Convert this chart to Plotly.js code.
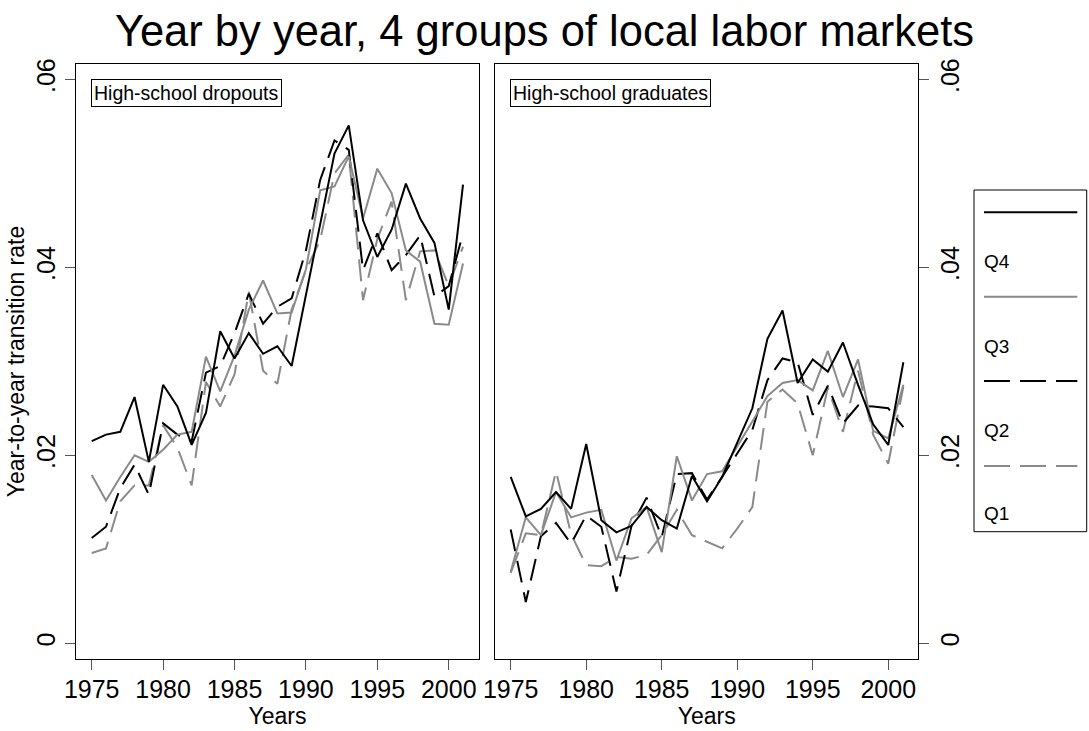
<!DOCTYPE html>
<html>
<head>
<meta charset="utf-8">
<script src="https://cdn.plot.ly/plotly-3.0.1.min.js"></script>
<style>html,body{margin:0;padding:0;background:#fff;}#chart{width:1089px;height:731px;}</style>
</head>
<body>
<div id="chart"></div>
<script>
// ---- data ----
const years = [1975,1976,1977,1978,1979,1980,1981,1982,1983,1984,1985,1986,1987,1988,1989,1990,1991,1992,1993,1994,1995,1996,1997,1998,1999,2000,2001];
const seriesNames = ["Q4","Q3","Q2","Q1"];
const panelNames = ["High-school dropouts","High-school graduates"];
const xTickVals = [1975,1980,1985,1990,1995,2000];
const yTickVals = [0,0.02,0.04,0.06];
const yTickText = ["0",".02",".04",".06"];

// High-school dropouts
const dropQ4 = [.0215,.0222,.0225,.0262,.0193,.0275,.0252,.0211,.0245,.0332,.0303,.0330,.0308,.0316,.0295,.0372,.0446,.0521,.0551,.0450,.0411,.0440,.0489,.0452,.0426,.0355,.0488];
const dropQ3 = [.0179,.0152,.0177,.0200,.0193,.0206,.0222,.0225,.0305,.0268,.0306,.0355,.0386,.0351,.0352,.0398,.0482,.0486,.0518,.0452,.0505,.0479,.0418,.0406,.0340,.0339,.0404];
const dropQ2 = [.0112,.0124,.0165,.0190,.0158,.0234,.0222,.0215,.0288,.0295,.0330,.0372,.0340,.0358,.0367,.0418,.0493,.0535,.0525,.0397,.0436,.0397,.0413,.0434,.0369,.0380,.0436];
const dropQ1 = [.0096,.0101,.0151,.0168,.0168,.0232,.0208,.0168,.0278,.0252,.0286,.0374,.0290,.0276,.0355,.0397,.0429,.0500,.0520,.0365,.0430,.0470,.0365,.0417,.0418,.0380,.0422];

// High-school graduates
const gradQ4 = [.0177,.0135,.0143,.0161,.0143,.0212,.0131,.0118,.0125,.0145,.0131,.0122,.0178,.0151,.0177,.0213,.0250,.0324,.0354,.0277,.0302,.0289,.0320,.0275,.0233,.0211,.0299];
const gradQ3 = [.0076,.0134,.0115,.0161,.0134,.0139,.0142,.0088,.0133,.0145,.0097,.0199,.0152,.0180,.0183,.0209,.0236,.0263,.0277,.0280,.0269,.0311,.0262,.0302,.0226,.0218,.0275];
const gradQ2 = [.0121,.0044,.0114,.0128,.0106,.0136,.0124,.0055,.0125,.0155,.0113,.0180,.0181,.0153,.0177,.0202,.0227,.0280,.0303,.0299,.0243,.0274,.0234,.0253,.0252,.0250,.0230];
const gradQ1 = [.0075,.0117,.0115,.0183,.0116,.0083,.0082,.0092,.0090,.0094,.0115,.0142,.0115,.0108,.0101,.0122,.0145,.0257,.0270,.0255,.0200,.0272,.0225,.0290,.0222,.0191,.0273];

// ---- styles ----
const FONT = "'Liberation Sans', Arial, sans-serif";
const GRAY = "#8a8a8a";
const styles = {
  Q4: {color: "#000000", dash: "solid"},
  Q3: {color: GRAY, dash: "solid"},
  Q2: {color: "#000000", dash: "22px,10px"},
  Q1: {color: GRAY, dash: "22px,10px"}
};
const LW = 2;

const dropData = {Q4: dropQ4, Q3: dropQ3, Q2: dropQ2, Q1: dropQ1};
const gradData = {Q4: gradQ4, Q3: gradQ3, Q2: gradQ2, Q1: gradQ1};

const traces = [];
const order = ["Q1","Q2","Q3","Q4"];
order.forEach(n => {
  traces.push({x: years, y: dropData[n], type: "scatter", mode: "lines", name: n, showlegend: false,
    xaxis: "x", yaxis: "y", line: {color: styles[n].color, dash: styles[n].dash, width: LW}, hoverinfo: "skip"});
});
order.forEach(n => {
  traces.push({x: years, y: gradData[n], type: "scatter", mode: "lines", name: n, showlegend: false,
    xaxis: "x2", yaxis: "y2", line: {color: styles[n].color, dash: styles[n].dash, width: LW}, hoverinfo: "skip"});
});

const W = 1089, H = 731;
const px = v => v / W;
const py = v => 1 - v / H;
const yDom = [py(658.7), py(64.3)];
const yRange = [-0.00164, 0.0616];
const TICK = 25, AXT = 23;

const common = {
  showgrid: false, zeroline: false, showline: true, linecolor: "#000", linewidth: 1, mirror: true,
  ticks: "outside", ticklen: 10, tickwidth: 1, tickcolor: "#555",
  tickfont: {family: FONT, size: TICK, color: "#000"}
};

const layout = {
  width: W, height: H,
  margin: {l: 0, r: 0, t: 0, b: 0},
  paper_bgcolor: "#fff", plot_bgcolor: "#fff",
  font: {family: FONT, color: "#000"},
  showlegend: false,
  title: {text: "Year by year, 4 groups of local labor markets", font: {family: FONT, size: 43.5, color: "#000"},
    x: 0.5, xanchor: "center", y: py(31), yanchor: "middle", xref: "paper", yref: "paper"},
  xaxis: Object.assign({}, common, {domain: [px(76), px(479)], range: [1973.9, 2002.12], anchor: "y",
    tickmode: "array", tickvals: xTickVals, ticklabelstandoff: -2,
    title: {text: "Years", font: {family: FONT, size: AXT, color: "#000"}, standoff: 0}}),
  yaxis: Object.assign({}, common, {domain: yDom, range: yRange, anchor: "x",
    tickmode: "array", tickvals: yTickVals, ticktext: yTickText, tickangle: -90,
    title: {text: "Year-to-year transition rate", font: {family: FONT, size: AXT, color: "#000"}, standoff: 0}}),
  xaxis2: Object.assign({}, common, {domain: [px(495.3), px(918)], range: [1973.98, 2001.97], anchor: "y2",
    tickmode: "array", tickvals: xTickVals, ticklabelstandoff: -2,
    title: {text: "Years", font: {family: FONT, size: AXT, color: "#000"}, standoff: 0}}),
  yaxis2: Object.assign({}, common, {domain: yDom, range: yRange, anchor: "x2", side: "right",
    tickmode: "array", tickvals: yTickVals, ticktext: yTickText, tickangle: -90}),
  shapes: [],
  annotations: []
};

// panel labels
const panelPos = [{x: 90.7}, {x: 509.5}];
panelNames.forEach((t, i) => {
  layout.annotations.push({text: t, xref: "paper", yref: "paper", x: px(panelPos[i].x), y: py(79),
    xanchor: "left", yanchor: "top", showarrow: false, align: "left",
    font: {family: FONT, size: 19.5, color: "#000"}, bordercolor: "#000", borderwidth: 1, borderpad: 2, bgcolor: "#fff"});
});

// legend (drawn manually: line sample above each label)
layout.shapes.push({type: "rect", xref: "paper", yref: "paper", x0: px(974), x1: px(1086.7), y0: py(531.7), y1: py(190),
  line: {color: "#000", width: 1}, fillcolor: "#fff", layer: "below"});
const legLineY = [212.3, 296.7, 381, 466];
const legTextY = [261.7, 346, 430, 513];
seriesNames.forEach((n, i) => {
  layout.shapes.push({type: "line", xref: "paper", yref: "paper", x0: px(984), x1: px(1077.3), y0: py(legLineY[i]), y1: py(legLineY[i]),
    line: {color: styles[n].color, width: LW, dash: n === "Q2" || n === "Q1" ? "26px,10px" : "solid"}});
  layout.annotations.push({text: n, xref: "paper", yref: "paper", x: px(982), y: py(legTextY[i]),
    xanchor: "left", yanchor: "middle", showarrow: false, font: {family: FONT, size: 19, color: "#000"}});
});

Plotly.newPlot("chart", traces, layout, {displayModeBar: false, staticPlot: true});
</script>
</body>
</html>
